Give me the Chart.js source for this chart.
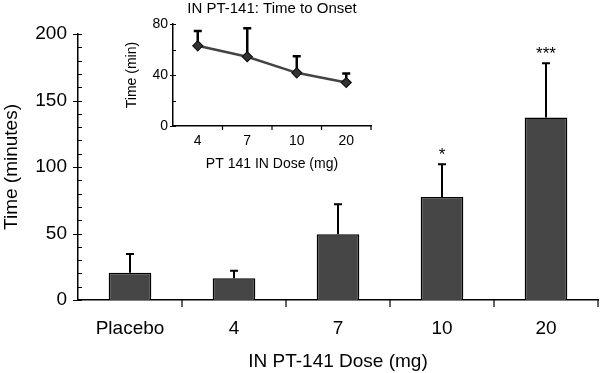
<!DOCTYPE html>
<html>
<head>
<meta charset="utf-8">
<script src="https://cdn.jsdelivr.net/npm/chart.js@4"></script>
<style>
  body { margin: 0; background: #fff; }
  #wrap { position: relative; width: 600px; height: 373px; }
  #main { position: absolute; left: 0; top: 0; }
  #inset { position: absolute; left: 120px; top: 0; }
</style>
</head>
<body>
<div id="wrap">
  <canvas id="main" width="600" height="373"></canvas>
  <canvas id="inset" width="304" height="175"></canvas>
</div>
<script>
// main bar chart
const doses = ['Placebo', '4', '7', '10', '20'];
const meanTime = [20.5, 16.3, 49.4, 77.4, 137.3];
const errTime = [14.1, 5.7, 22.5, 24.6, 40.7];
const stars = ['', '', '', '*', '***'];

// inset: time to onset
const insetTitle = 'IN PT-141: Time to Onset';
const insetDoses = ['4', '7', '10', '20'];
const onset = [62.9, 54.3, 41.7, 34.1];
const onsetErr = [11.6, 22.3, 13.1, 7.1];

const font = 'Arial, "Liberation Sans", Helvetica, sans-serif';
Chart.defaults.font.family = font;
Chart.defaults.color = '#000';

// draws the little tick marks, upper error bars, star labels and inset title
const extras = {
  id: 'extras',
  beforeDatasetsDraw(chart, args, opts) {
    if (opts.errBehind) drawErr(chart, opts);
  },
  afterDatasetsDraw(chart, args, opts) {
    if (!opts.errBehind) drawErr(chart, opts);
    const ctx = chart.ctx;
    const x = chart.scales.x, y = chart.scales.y;
    const a = chart.chartArea;
    ctx.save();
    ctx.strokeStyle = '#000';
    ctx.lineWidth = opts.tickWidth;
    ctx.beginPath();
    for (let v = y.min; v <= y.max; v += opts.minorStep) {
      const py = Math.round(y.getPixelForValue(v)) + 0.5;
      const major = v % opts.majorStep === 0;
      ctx.moveTo(a.left - (major ? opts.majorOut : 0), py);
      ctx.lineTo(a.left + opts.tickIn, py);
    }
    const n = x.getLabels().length;
    for (let i = 1; i <= n; i++) {
      const px = a.left + (a.right - a.left) * i / n;
      ctx.moveTo(px, a.bottom);
      ctx.lineTo(px, a.bottom + opts.xTick);
    }
    ctx.stroke();
    ctx.fillStyle = '#000';
    ctx.textAlign = 'center';
    ctx.textBaseline = 'middle';
    if (opts.stars) {
      ctx.font = '17px ' + font;
      opts.stars.forEach((s, i) => {
        if (!s) return;
        const px = x.getPixelForValue(i);
        const py = y.getPixelForValue(opts.mean[i] + opts.err[i]);
        ctx.fillText(s, px, py - 9);
      });
    }
    if (opts.title) {
      ctx.font = '15px ' + font;
      ctx.fillText(opts.title, (a.left + a.right) / 2, 9);
    }
    ctx.restore();
  }
};

function drawErr(chart, opts) {
  const ctx = chart.ctx;
  const x = chart.scales.x, y = chart.scales.y;
  ctx.save();
  ctx.strokeStyle = '#000';
  ctx.lineWidth = opts.errWidth;
  opts.mean.forEach((m, i) => {
    const px = x.getPixelForValue(i);
    const y0 = y.getPixelForValue(m);
    const y1 = y.getPixelForValue(m + opts.err[i]);
    ctx.beginPath();
    ctx.moveTo(px, y0);
    ctx.lineTo(px, y1);
    ctx.moveTo(px - opts.cap, y1);
    ctx.lineTo(px + opts.cap, y1);
    ctx.stroke();
  });
  ctx.restore();
}

new Chart(document.getElementById('main'), {
  type: 'bar',
  data: {
    labels: doses,
    datasets: [{
      data: meanTime,
      backgroundColor: '#464646',
      borderColor: '#000',
      borderWidth: 1.5,
      barPercentage: 0.41,
      categoryPercentage: 1
    }]
  },
  options: {
    responsive: false,
    animation: false,
    devicePixelRatio: 1,
    layout: { padding: { top: 34, right: 2, left: 0, bottom: 0 } },
    plugins: {
      legend: { display: false },
      tooltip: { enabled: false },
      extras: {
        mean: meanTime, err: errTime, stars: stars,
        errWidth: 2, cap: 4,
        minorStep: 10, majorStep: 50, majorOut: 5, tickIn: 4, tickWidth: 1.2, xTick: 7
      }
    },
    scales: {
      x: {
        grid: { display: false, drawTicks: false },
        border: { display: true, color: '#000', width: 1.5 },
        ticks: { font: { size: 19 }, padding: 17 },
        title: { display: true, text: 'IN PT-141 Dose (mg)', font: { size: 19 }, padding: 0 },
        afterFit: s => { s.height = 73; }
      },
      y: {
        min: 0, max: 200,
        grid: { display: false, drawTicks: false },
        border: { display: true, color: '#000', width: 1.5 },
        ticks: { stepSize: 50, font: { size: 19 }, padding: 11 },
        title: { display: true, text: 'Time (minutes)', font: { size: 19 }, padding: 0 },
        afterFit: s => { s.width = 78; }
      }
    }
  },
  plugins: [extras]
});

new Chart(document.getElementById('inset'), {
  type: 'line',
  data: {
    labels: insetDoses,
    datasets: [{
      data: onset,
      borderColor: '#444',
      borderWidth: 2.5,
      tension: 0,
      pointStyle: 'rectRot',
      pointRadius: 5,
      pointBackgroundColor: '#333',
      pointBorderColor: '#111',
      pointBorderWidth: 1.2
    }]
  },
  options: {
    responsive: false,
    animation: false,
    devicePixelRatio: 1,
    layout: { padding: { top: 24, right: 53, left: 0, bottom: 0 } },
    plugins: {
      legend: { display: false },
      tooltip: { enabled: false },
      extras: {
        mean: onset, err: onsetErr, errBehind: true, title: insetTitle,
        errWidth: 2.5, cap: 4,
        minorStep: 20, majorStep: 40, majorOut: 3, tickIn: 3, tickWidth: 1.2, xTick: 4
      }
    },
    scales: {
      x: {
        offset: true,
        grid: { display: false, drawTicks: false, offset: true },
        border: { display: true, color: '#000', width: 1.5 },
        ticks: { font: { size: 14 }, padding: 7 },
        title: { display: true, text: 'PT 141 IN Dose (mg)', font: { size: 14 }, padding: { top: 0, bottom: 2 } },
        afterFit: s => { s.height = 49; }
      },
      y: {
        min: 0, max: 80,
        grid: { display: false, drawTicks: false },
        border: { display: true, color: '#000', width: 1.5 },
        ticks: { stepSize: 40, font: { size: 14 }, padding: 5 },
        title: { display: true, text: 'Time (min)', font: { size: 14 }, padding: { top: 4, bottom: 0 } },
        afterFit: s => { s.width = 53; }
      }
    }
  },
  plugins: [extras]
});
</script>
</body>
</html>
